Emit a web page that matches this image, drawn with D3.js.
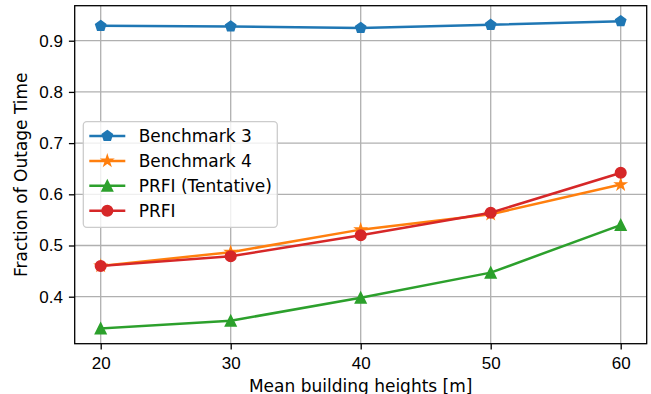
<!DOCTYPE html>
<html>
<head>
<meta charset="utf-8">
<script src="https://cdn.jsdelivr.net/npm/d3@7"></script>
<style>
  body { margin: 0; background: #fff; }
  svg { display: block; font-family: "DejaVu Sans", sans-serif; }
  .grid line { stroke: #b0b0b0; stroke-width: 1.3; }
  .axis text { font-size: 17px; fill: #000; }
  .axis line, .axis path { stroke: #000; stroke-width: 1.3; }
</style>
</head>
<body>
<div id="chart"></div>
<script>
var heights = [20, 30, 40, 50, 60];
var benchmark3 = [0.929, 0.928, 0.925, 0.931, 0.938];
var benchmark4 = [0.460, 0.487, 0.531, 0.561, 0.619];
var prfiTentative = [0.338, 0.353, 0.398, 0.447, 0.540];
var prfi = [0.460, 0.479, 0.520, 0.564, 0.642];
var xTicks = [20, 30, 40, 50, 60];
var yTicks = [0.4, 0.5, 0.6, 0.7, 0.8, 0.9];

var series = [
  {name: "Benchmark 3", values: benchmark3, color: "#1f77b4", marker: "pentagon"},
  {name: "Benchmark 4", values: benchmark4, color: "#ff7f0e", marker: "star"},
  {name: "PRFI (Tentative)", values: prfiTentative, color: "#2ca02c", marker: "triangle"},
  {name: "PRFI", values: prfi, color: "#d62728", marker: "circle"}
];

var margin = {top: 5.7, right: 4.3, bottom: 50.3, left: 74.7},
    width = 651 - margin.left - margin.right,
    height = 394 - margin.top - margin.bottom;

var x = d3.scaleLinear().domain([18, 62]).range([0, width]);
var y = d3.scaleLinear().domain([0.3082, 0.9684]).range([height, 0]);

// matplotlib-like marker outlines, s = marker size in px
function markerPath(type, s) {
  var r = s / 2, p = d3.path(), i, a;
  if (type === "circle") {
    p.arc(0, 0, r, 0, 2 * Math.PI);
  } else if (type === "triangle") {
    p.moveTo(0, -r); p.lineTo(-r, r); p.lineTo(r, r); p.closePath();
  } else if (type === "pentagon") {
    for (i = 0; i < 5; i++) {
      a = -Math.PI / 2 + i * 2 * Math.PI / 5;
      i ? p.lineTo(r * Math.cos(a), r * Math.sin(a)) : p.moveTo(r * Math.cos(a), r * Math.sin(a));
    }
    p.closePath();
  } else if (type === "star") {
    for (i = 0; i < 10; i++) {
      a = -Math.PI / 2 + i * Math.PI / 5;
      var rr = i % 2 ? r * 0.381966 : r;
      i ? p.lineTo(rr * Math.cos(a), rr * Math.sin(a)) : p.moveTo(rr * Math.cos(a), rr * Math.sin(a));
    }
    p.closePath();
  }
  return p.toString();
}

var svg = d3.select("#chart").append("svg")
    .attr("width", 651)
    .attr("height", 394)
  .append("g")
    .attr("transform", "translate(" + margin.left + "," + margin.top + ")");

// grid
var grid = svg.append("g").attr("class", "grid");

grid.selectAll("line.v")
    .data(xTicks)
  .enter().append("line")
    .attr("class", "v")
    .attr("x1", function(d) { return x(d); })
    .attr("x2", function(d) { return x(d); })
    .attr("y1", 0)
    .attr("y2", height);

grid.selectAll("line.h")
    .data(yTicks)
  .enter().append("line")
    .attr("class", "h")
    .attr("x1", 0)
    .attr("x2", width)
    .attr("y1", function(d) { return y(d); })
    .attr("y2", function(d) { return y(d); });

// lines + markers
var line = d3.line()
    .x(function(d, i) { return x(heights[i]); })
    .y(function(d) { return y(d); });

series.forEach(function(s) {
  var g = svg.append("g");
  g.append("path")
      .datum(s.values)
      .attr("d", line)
      .attr("fill", "none")
      .attr("stroke", s.color)
      .attr("stroke-width", 2.5)
      .attr("stroke-linejoin", "round")
      .attr("stroke-linecap", "square");
  g.selectAll(".pt")
      .data(s.values)
    .enter().append("path")
      .attr("class", "pt")
      .attr("transform", function(d, i) { return "translate(" + x(heights[i]) + "," + y(d) + ")"; })
      .attr("d", markerPath(s.marker, 10.5))
      .attr("fill", s.color)
      .attr("stroke", s.color)
      .attr("stroke-width", 1.6);
});

// axes
var xAxis = d3.axisBottom(x).tickValues(xTicks).tickSize(5.8).tickPadding(5);
var yAxis = d3.axisLeft(y).tickValues(yTicks).tickSize(5.8).tickPadding(6)
    .tickFormat(d3.format(".1f"));

svg.append("g")
    .attr("class", "axis")
    .attr("transform", "translate(0," + height + ")")
    .call(xAxis)
    .call(function(g) { g.select(".domain").remove(); })
    .selectAll("text").attr("dy", "0.85em");

svg.append("g")
    .attr("class", "axis")
    .call(yAxis)
    .call(function(g) { g.select(".domain").remove(); });

// frame
svg.append("rect")
    .attr("width", width)
    .attr("height", height)
    .attr("fill", "none")
    .attr("stroke", "#000")
    .attr("stroke-width", 1.3);

// axis labels
svg.append("text")
    .attr("x", width / 2)
    .attr("y", height + 48)
    .style("text-anchor", "middle")
    .style("font-size", "17px")
    .text("Mean building heights [m]");

svg.append("text")
    .attr("transform", "rotate(-90)")
    .attr("x", -height / 2)
    .attr("y", -48)
    .style("text-anchor", "middle")
    .style("font-size", "17px")
    .text("Fraction of Outage Time");

// legend
var legend = svg.append("g")
    .attr("transform", "translate(" + (83.3 - margin.left) + "," + (121.7 - margin.top) + ")");

legend.append("rect")
    .attr("width", 194)
    .attr("height", 105.6)
    .attr("rx", 3.5)
    .attr("fill", "#fff")
    .attr("fill-opacity", 0.8)
    .attr("stroke", "#cccccc")
    .attr("stroke-width", 1.3);

var item = legend.selectAll(".item")
    .data(series)
  .enter().append("g")
    .attr("class", "item")
    .attr("transform", function(d, i) { return "translate(0," + (14.3 + i * 24.9) + ")"; });

item.append("line")
    .attr("x1", 6)
    .attr("x2", 42)
    .attr("stroke", function(d) { return d.color; })
    .attr("stroke-width", 2.5);

item.append("path")
    .attr("transform", "translate(24,0)")
    .attr("d", function(d) { return markerPath(d.marker, 10.5); })
    .attr("fill", function(d) { return d.color; })
    .attr("stroke", function(d) { return d.color; })
    .attr("stroke-width", 1.6);

item.append("text")
    .attr("x", 55.4)
    .attr("dy", "0.35em")
    .style("font-size", "17px")
    .text(function(d) { return d.name; });
</script>
</body>
</html>
